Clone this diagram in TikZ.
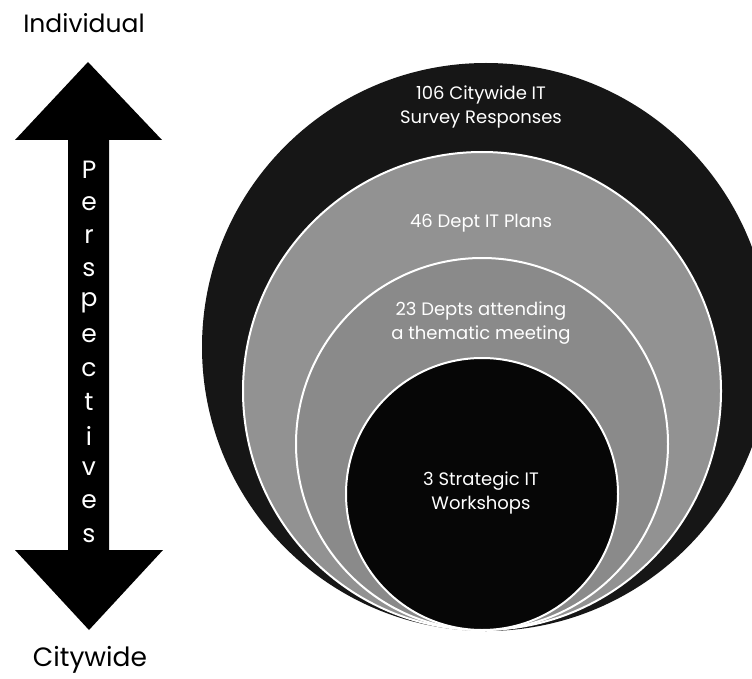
\documentclass[tikz,border=0pt]{standalone}
\usepackage{fontspec}
\setmainfont{Poppins}
\begin{document}
\begin{tikzpicture}[x=1pt,y=-1pt,
  ringtext/.style={text=white,font=\fontsize{18}{24}\selectfont,align=center,inner sep=0pt},
  sidelabel/.style={text=black,inner sep=0pt},
  shaftletter/.style={text=white,font=\fontsize{25}{25}\selectfont,inner sep=0pt},
  ringline/.style={draw=white,line width=2pt}]
\useasboundingbox (0,0) rectangle (752,679);
\clip (0,0) rectangle (752,679);
\definecolor{outerdark}{RGB}{22,22,22}
\definecolor{ringA}{RGB}{146,146,146}
\definecolor{ringB}{RGB}{138,138,138}
\definecolor{innerdark}{RGB}{6,6,6}
% concentric (internally tangent) circles
\fill[outerdark] (486,347) circle (284);
\filldraw[fill=ringA,ringline] (482,391) circle (239);
\filldraw[fill=ringB,ringline] (482,444) circle (186);
\filldraw[fill=innerdark,ringline] (482,494) circle (136);
% texts
\node[ringtext] (t1) at (481,107) {106 Citywide IT\\Survey Responses};
\node[ringtext] (t2) at (481,223) {46 Dept IT Plans};
\node[ringtext] (t3) at (481,323) {23 Depts attending\\a thematic meeting};
\node[ringtext] (t4) at (481,493) {3 Strategic IT\\Workshops};
% double arrow
\fill[black] (88,62) -- (162,140) -- (109,140) -- (109,550) -- (163,550)
  -- (89,630) -- (15,550) -- (68,550) -- (68,140) -- (15,140) -- cycle;
\foreach \ch [count=\i from 0] in {P,e,r,s,p,e,c,t,i,v,e,s}{
  \node[shaftletter] (L\i) at (89,{170+\i*33.2}) {\ch};
}
\node[sidelabel,font=\fontsize{25}{25}\selectfont] (ind) at (84,23) {Individual};
\node[sidelabel,font=\fontsize{26.5}{26.5}\selectfont] (cty) at (90,660) {Citywide};
\end{tikzpicture}
\end{document}
